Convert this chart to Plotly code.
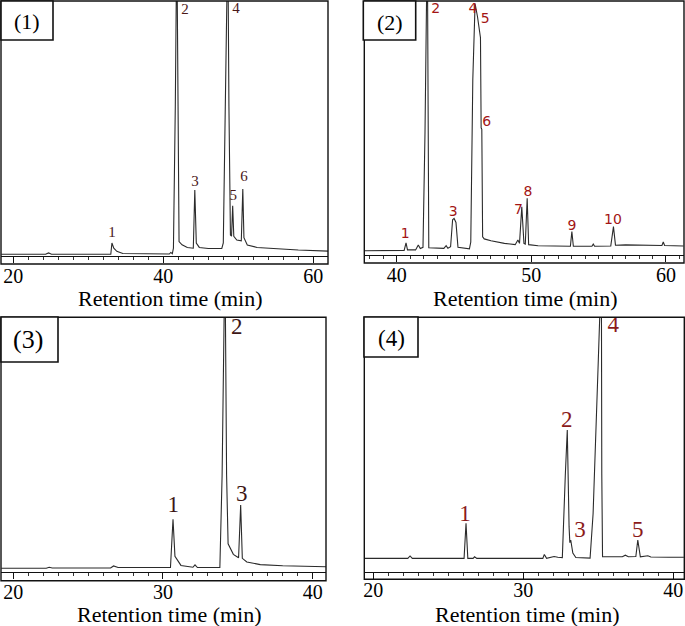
import plotly.graph_objects as go

# ---------------- data ----------------
# Panel (1)
p1_time = [18.4, 24.3, 24.7, 25.1, 33.0, 33.15, 33.4, 33.8, 34.6, 40.8, 41.0, 41.2, 41.35, 41.6, 41.8,
           41.95, 42.1, 42.5, 43.2, 44.0, 44.2, 44.4, 44.8, 46.0, 47.8, 48.0, 48.3, 48.6, 48.75, 48.95,
           49.1, 49.25, 49.4, 49.8, 50.4, 50.6, 50.75, 51.2, 52.5, 55.0, 58.0, 62.0]
p1_signal = [3.7, 3.7, 4.2, 3.7, 3.7, 8.0, 6.0, 4.8, 4.0, 3.8, 4.4, 3.9, 6.0, 60, 125,
             40, 8.5, 7.3, 6.3, 6.0, 28.1, 8.0, 6.3, 5.9, 5.9, 8.0, 60, 125, 60, 11.0,
             10.6, 22.1, 10.5, 9.1, 8.8, 28.5, 10.0, 7.2, 6.3, 5.8, 5.3, 4.9]
p1_peak_labels = ["1", "2", "3", "4", "5", "6"]
p1_label_time = [33.16, 42.9, 44.24, 49.7, 49.33, 50.76]
p1_label_signal = [11.8, 96.3, 30.9, 96.8, 25.6, 33.0]
p1_ticks = [20, 40, 60]

# Panel (2)
p2_time = [37.6, 40.55, 40.69, 40.8, 41.4, 41.6, 41.75, 41.95, 42.1, 42.27, 42.33, 42.38, 43.5, 43.67,
           43.8, 44.0, 44.15, 44.26, 44.4, 44.55, 45.4, 45.5, 45.65, 45.82, 46.0, 46.14, 46.22, 46.27,
           46.32, 46.38, 46.5, 47.0, 48.0, 48.8, 49.0, 49.12, 49.29, 49.45, 49.55, 49.69, 49.8, 50.5,
           52.9, 53.01, 53.12, 54.5, 54.6, 54.7, 55.9, 56.1, 56.25, 57.0, 59.7, 59.8, 59.9, 61.3]
p2_signal = [4.7, 4.8, 7.7, 5.0, 5.0, 6.9, 5.5, 6.0, 50, 125, 60, 5.8, 5.6, 6.6,
             5.6, 6.2, 16.5, 17.0, 15.5, 6.0, 5.4, 8.0, 70, 99, 94, 88.9, 86, 51.6,
             51.0, 10.0, 9.2, 8.5, 7.5, 7.0, 8.8, 7.5, 21.5, 7.5, 7.2, 24.7, 7.0, 6.6,
             6.4, 12.0, 6.4, 6.4, 7.2, 6.4, 6.5, 13.9, 6.8, 6.9, 6.7, 8.0, 6.7, 6.5]
p2_peak_labels = ["1", "2", "3", "4", "5", "6", "7", "8", "9", "10"]
p2_label_time = [40.62, 42.9, 44.19, 45.67, 46.57, 46.69, 49.04, 49.74, 53.01, 56.06]
p2_label_signal = [10.7, 96.9, 19.1, 96.6, 93.1, 53.5, 20.2, 26.8, 14.1, 16.4]
p2_ticks = [40, 50, 60]

# Panel (3)
p3_time = [19.2, 22.2, 22.4, 22.6, 26.5, 26.7, 27.0, 30.5, 30.67, 30.8, 31.2, 32.0, 32.14, 32.3,
           33.8, 33.95, 34.14, 34.25, 34.35, 34.7, 35.05, 35.19, 35.3, 35.6, 36.5, 38.0, 40.9]
p3_signal = [4.7, 4.7, 5.1, 4.8, 4.8, 5.6, 5.0, 5.0, 23.3, 9.3, 5.8, 5.1, 6.0, 5.0,
             5.0, 40, 125, 40, 14.0, 10.0, 8.7, 28.7, 8.5, 7.1, 6.1, 5.7, 5.3]
p3_peak_labels = ["1", "2", "3"]
p3_label_time = [30.69, 34.92, 35.26]
p3_label_signal = [28.1, 95.8, 32.5]
p3_ticks = [20, 30, 40]

# Panel (4)
p4_time = [19.4, 22.3, 22.45, 22.6, 26.05, 26.18, 26.3, 26.65, 26.75, 26.9, 31.3, 31.4, 31.55, 31.9,
           32.05, 32.3, 32.6, 32.8, 32.93, 33.05, 33.1, 33.16, 33.3, 33.5, 34.45, 34.65, 34.83, 35.0,
           35.15, 35.2, 35.23, 35.28, 36.6, 36.8, 37.0, 37.5, 37.63, 37.8, 38.3, 38.5, 39.7, 40.7]
p4_signal = [8.0, 8.0, 8.9, 8.0, 8.0, 21.4, 8.0, 8.0, 8.6, 8.0, 8.0, 9.5, 8.0, 8.3,
             8.7, 8.4, 8.3, 40, 57.0, 20, 14, 15.0, 10, 8.3, 8.1, 25, 52, 84,
             110, 125, 40, 8.6, 8.6, 9.2, 8.6, 8.7, 15.0, 8.6, 9.0, 8.5, 8.4, 8.4]
p4_peak_labels = ["1", "2", "3", "4", "5"]
p4_label_time = [26.11, 32.89, 33.78, 36.0, 37.63]
p4_label_signal = [24.5, 60.2, 18.2, 96.4, 18.2]
p4_ticks = [20, 30, 40]

panel_names = ["(1)", "(2)", "(3)", "(4)"]
x_title = "Retention time (min)"

# ---------------- layout helpers ----------------
W, H = 685, 626
def fx(px):
    return px / W
def fy(py):
    return 1 - py / H

SERIF = "Liberation Serif"
panels = [
    dict(t=p1_time, s=p1_signal, lab=p1_peak_labels, lt=p1_label_time, ls=p1_label_signal, ticks=p1_ticks,
         box=(1, 1, 328, 264), line_py=256, rng=[18.36, 61.96], minor=2, standoff=-4,
         lfont=dict(family=SERIF, size=15, color="#4a1818"),
         tag_box=(1, 1, 53, 40), tag_xy=(27, 21), tag_size=22, title_xy=(170, 298)),
    dict(t=p2_time, s=p2_signal, lab=p2_peak_labels, lt=p2_label_time, ls=p2_label_signal, ticks=p2_ticks,
         box=(364.3, 1, 684, 263), line_py=255, rng=[37.59, 61.34], minor=1, standoff=-4,
         lfont=dict(family="DejaVu Sans", size=14, color="#a31515"),
         tag_box=(363.3, 1, 415.7, 40), tag_xy=(389.5, 22), tag_size=22, title_xy=(525, 298)),
    dict(t=p3_time, s=p3_signal, lab=p3_peak_labels, lt=p3_label_time, ls=p3_label_signal, ticks=p3_ticks,
         box=(1, 317.3, 326, 580.7), line_py=571.5, rng=[19.18, 40.89], minor=1, standoff=-4,
         lfont=dict(family=SERIF, size=23, color="#3d1616"),
         tag_box=(1, 317, 58, 362), tag_xy=(28, 340), tag_size=26, title_xy=(169.5, 614)),
    dict(t=p4_time, s=p4_signal, lab=p4_peak_labels, lt=p4_label_time, ls=p4_label_signal, ticks=p4_ticks,
         box=(364.3, 317.3, 684.3, 579.3), line_py=572.3, rng=[19.4, 40.73], minor=1, standoff=-6,
         lfont=dict(family=SERIF, size=23, color="#8b1a1a"),
         tag_box=(364, 317, 418, 357), tag_xy=(391, 338), tag_size=23, title_xy=(527.5, 614)),
]

fig = go.Figure()
layout = dict(width=W, height=H, margin=dict(l=0, r=0, t=0, b=0),
              paper_bgcolor="white", plot_bgcolor="white", showlegend=False)
shapes, annotations = [], []

for i, p in enumerate(panels):
    n = i + 1
    xa = f"x{'' if n == 1 else n}"
    ya = f"y{'' if n == 1 else n}"
    x0, y0, x1, y1 = p["box"]
    dom_x = [fx(x0), fx(x1)]
    dom_y = [fy(y1), fy(y0)]

    fig.add_trace(go.Scatter(x=p["t"], y=p["s"], mode="lines", xaxis=xa, yaxis=ya,
                             line=dict(color="#2b2b2b", width=1.1), hoverinfo="skip"))
    fig.add_trace(go.Scatter(x=p["lt"], y=p["ls"], text=p["lab"], mode="text", xaxis=xa, yaxis=ya,
                             textposition="middle center", textfont=p["lfont"], cliponaxis=False,
                             hoverinfo="skip"))

    # x axis line with ticks sits inside the frame, labels pushed below the frame
    layout["xaxis" + ("" if n == 1 else str(n))] = dict(
        domain=dom_x, range=p["rng"], anchor="free", position=fy(p["line_py"]),
        showline=True, linecolor="#111", linewidth=1.2, ticks="outside", ticklen=6, tickwidth=1,
        tickcolor="#111", tickmode="array", tickvals=p["ticks"], ticktext=[str(v) for v in p["ticks"]],
        tickfont=dict(family=SERIF, size=20, color="black"), ticklabelstandoff=p["standoff"],
        showgrid=False, zeroline=False, fixedrange=True,
        minor=dict(ticks="outside", ticklen=3, tickwidth=1, tickcolor="#333",
                   tickmode="linear", tick0=0, dtick=p["minor"], showgrid=False))
    layout["yaxis" + ("" if n == 1 else str(n))] = dict(
        domain=dom_y, range=[0, 100], visible=False, fixedrange=True)

    # frame
    shapes.append(dict(type="rect", xref="paper", yref="paper", x0=fx(x0), x1=fx(x1), y0=fy(y1), y1=fy(y0),
                       line=dict(color="#111", width=1.4)))
    # panel tag box
    bx0, by0, bx1, by1 = p["tag_box"]
    shapes.append(dict(type="rect", xref="paper", yref="paper", x0=fx(bx0), x1=fx(bx1), y0=fy(by1), y1=fy(by0),
                       line=dict(color="#111", width=1.6), fillcolor="white"))
    annotations.append(dict(text=panel_names[i], xref="paper", yref="paper", x=fx(p["tag_xy"][0]),
                            y=fy(p["tag_xy"][1]), showarrow=False, xanchor="center", yanchor="middle",
                            font=dict(family=SERIF, size=p["tag_size"], color="black")))
    annotations.append(dict(text=x_title, xref="paper", yref="paper", x=fx(p["title_xy"][0]),
                            y=fy(p["title_xy"][1]), showarrow=False, xanchor="center", yanchor="middle",
                            borderpad=0, font=dict(family=SERIF, size=22, color="black")))

layout["shapes"] = shapes
layout["annotations"] = annotations
fig.update_layout(**layout)
fig.write_html("out.html", config={"displayModeBar": False},
               post_script="document.body.style.margin='0';document.body.style.overflow='hidden';")
